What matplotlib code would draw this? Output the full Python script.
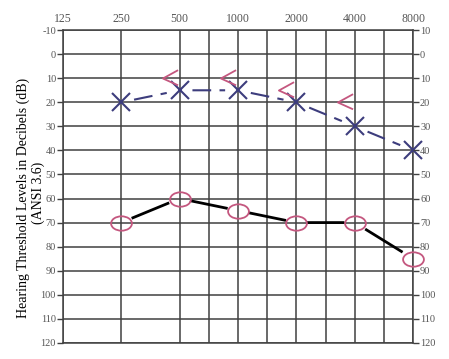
import numpy as np
import matplotlib
matplotlib.use('agg')
import matplotlib.pyplot as plt
from matplotlib.path import Path
from matplotlib.transforms import Affine2D, ScaledTranslation

# audiogram values (dB HL)
freqs = [250, 500, 1000, 2000, 4000, 8000]
left_air = [20, 15, 15, 20, 30, 40]        # blue X
right_air = [70, 60, 65, 70, 70, 85]       # pink O
bone_freqs = [500, 1000, 2000, 4000]
bone_vals = [10, 10, 15, 20]               # pink <

freq_ticks = [125, 250, 500, 1000, 2000, 4000, 8000]
half_octaves = [707, 1414, 2828, 5657]
db_ticks = list(range(-10, 121, 10))
right_labels = ['10'] + [str(v) for v in db_ticks[1:]]

grid_col = '#404040'
lbl_col = '#555555'
pink = '#c4577f'
blue = '#3d3d7d'
serif = 'Liberation Serif'

fig = plt.figure(figsize=(4.49, 3.59), dpi=100)
ax = fig.add_axes([0.140, 0.045, 0.780, 0.871])

ax.set_xscale('log', base=2)
ax.set_xlim(125, 8000)
ax.set_ylim(120, -10)

for f in freq_ticks + half_octaves:
    ax.axvline(f, color=grid_col, lw=1.1, zorder=1)
for v in db_ticks:
    ax.axhline(v, color=grid_col, lw=1.1, zorder=1)
for s in ax.spines.values():
    s.set_color(grid_col)
    s.set_linewidth(1.1)

ax.xaxis.tick_top()
ax.set_xticks(freq_ticks)
ax.set_xticklabels([str(f) for f in freq_ticks])
ax.xaxis.set_minor_locator(matplotlib.ticker.NullLocator())
ax.tick_params(axis='x', length=0, pad=4, labelsize=8.5, labelcolor=lbl_col)

ax.set_yticks(db_ticks)
ax.set_yticklabels([str(v) for v in db_ticks])
ax.tick_params(axis='y', length=4, width=1.0, color=grid_col, pad=1,
               labelsize=7.5, labelcolor=lbl_col)
ax2 = ax.twinx()
ax2.set_ylim(120, -10)
ax2.set_yticks(db_ticks)
ax2.set_yticklabels(right_labels)
ax2.tick_params(axis='y', length=4, width=1.0, color=grid_col, pad=1,
                labelsize=7.5, labelcolor=lbl_col)
for s in ax2.spines.values():
    s.set_visible(False)
for t in ax.get_xticklabels() + ax.get_yticklabels() + ax2.get_yticklabels():
    t.set_family(serif)


def gapped(x, y, gap):
    # connecting segments that stop short of the symbols
    lx = np.log2(x)
    xs, ys = [], []
    for i in range(len(x) - 1):
        a = lx[i] + gap * (lx[i + 1] - lx[i])
        b = lx[i + 1] - gap * (lx[i + 1] - lx[i])
        ya = y[i] + gap * (y[i + 1] - y[i])
        yb = y[i + 1] - gap * (y[i + 1] - y[i])
        xs += [2 ** a, 2 ** b, np.nan]
        ys += [ya, yb, np.nan]
    return xs, ys


# right ear: solid black line with pink ellipses
xs, ys = gapped(freqs, right_air, 0.2)
ax.plot(xs, ys, color='black', lw=2.0, zorder=3)
ellipse = Path.unit_circle().transformed(Affine2D().scale(1.45, 1.0))
ax.plot(freqs, right_air, ls='none', marker=ellipse, ms=15, mfc='none',
        mec=pink, mew=1.3, zorder=4, clip_on=False)

# left ear: dashed blue line with X
xs, ys = gapped(freqs, left_air, 0.22)
ax.plot(xs, ys, color=blue, lw=1.5, dashes=(9, 4), zorder=3)
ax.plot(freqs, left_air, ls='none', marker='x', ms=13, mec=blue, mew=1.5,
        zorder=4, clip_on=False)

# bone conduction
chevron = Path([(1, 1.1), (-1, 0), (1, -0.9)], [Path.MOVETO, Path.LINETO, Path.LINETO])
shift = ax.transData + ScaledTranslation(-10 / 100, 0, fig.dpi_scale_trans)
ax.plot(bone_freqs, bone_vals, ls='none', marker=chevron, ms=12, mfc='none',
        mec=pink, mew=1.3, zorder=4, transform=shift)

fig.text(0.051, 0.448, 'Hearing Threshold Levels in Decibels (dB)', rotation=90,
         ha='center', va='center', family=serif, fontsize=10)
fig.text(0.085, 0.462, '(ANSI 3.6)', rotation=90, ha='center', va='center',
         family=serif, fontsize=10)

fig.savefig('out.png', dpi=100)
